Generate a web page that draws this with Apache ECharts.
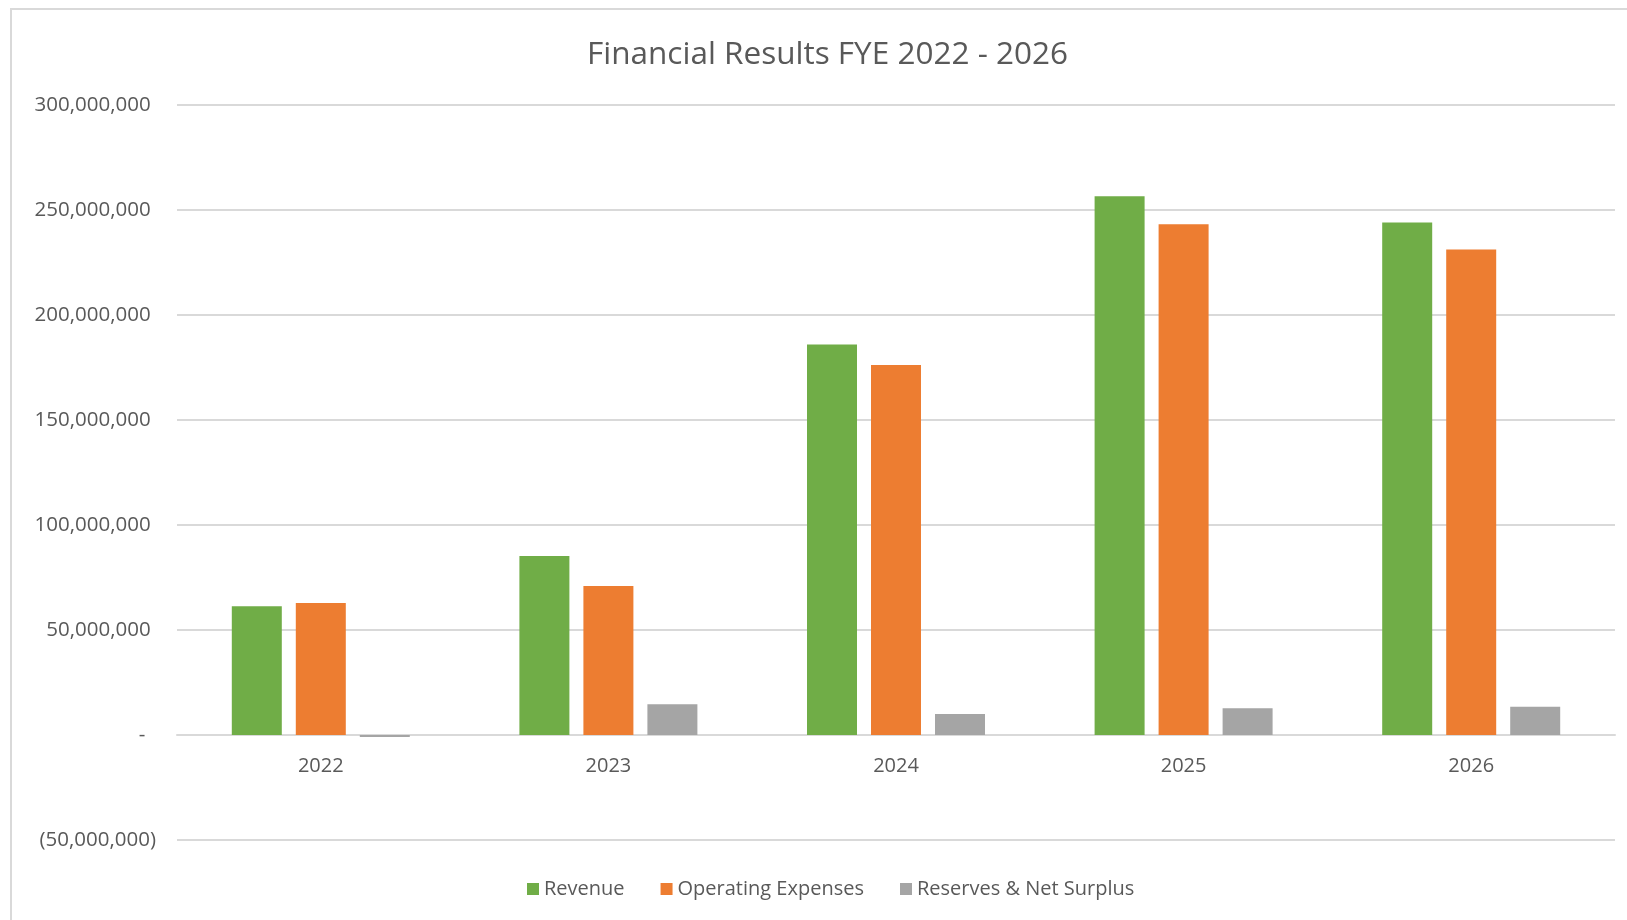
<!DOCTYPE html>
<html lang="en">
<head>
    <meta charset="UTF-8">
    <title>Financial Results FYE 2022 - 2026</title>
    <script src="https://cdn.jsdelivr.net/npm/echarts@6/dist/echarts.min.js"></script>
    <style>
        *{
            margin: 0;
            padding: 0;
        }
        html,body{
            width: 100%;
            height: 100%;
            background: #fff;
        }
        .main{
            width: 1627px;
            height: 920px;
        }
    </style>
</head>
<body>
<div class="main"></div>
<script>
    let years = ['2022', '2023', '2024', '2025', '2026'];
    let revenue = [61300000, 85200000, 186000000, 256600000, 244000000];
    let opex = [62800000, 71000000, 176200000, 243200000, 231200000];
    let reserves = [-1000000, 14600000, 10000000, 12700000, 13400000];

    let yMin = -50000000;
    let yMax = 300000000;
    let yStep = 50000000;

    let textColor = '#595959';
    let font = 'Open Sans';

    // accounting style: zero as dash, negatives in brackets
    function fmt(v) {
        if (v === 0) return '-  ';
        let s = Math.abs(v).toLocaleString('en-US');
        return v < 0 ? '(' + s + ')' : s + ' ';
    }

    let main = echarts.init(document.getElementsByClassName('main')[0]);
    let option = {
        animation: false,
        color: ['#70AD47', '#ED7D31', '#A5A5A5'],
        textStyle: {fontFamily: font},
        graphic: [{
            type: 'rect',
            silent: true,
            shape: {x: 11, y: 9, width: 1700, height: 1000},
            style: {fill: 'none', stroke: '#d9d9d9', lineWidth: 2}
        }],
        title: {
            text: 'Financial Results FYE 2022 - 2026',
            left: 582,
            top: 34,
            textStyle: {
                color: textColor,
                fontFamily: font,
                fontSize: 31.5,
                fontWeight: 'normal'
            }
        },
        legend: {
            left: 522,
            top: 874,
            itemWidth: 12,
            itemHeight: 12,
            itemGap: 36,
            icon: 'rect',
            textStyle: {color: textColor, fontFamily: font, fontSize: 20},
            data: ['Revenue', 'Operating Expenses', 'Reserves & Net Surplus']
        },
        grid: {
            left: 177,
            right: 12,
            top: 105,
            bottom: 80,
            containLabel: false
        },
        xAxis: {
            type: 'category',
            data: years,
            offset: -105,
            axisTick: {show: false},
            axisLine: {onZero: false, lineStyle: {color: '#d9d9d9', width: 2}},
            axisLabel: {color: textColor, fontSize: 20, margin: 21}
        },
        yAxis: {
            type: 'value',
            min: yMin,
            max: yMax,
            interval: yStep,
            axisLine: {show: false},
            axisTick: {show: false},
            splitLine: {lineStyle: {color: '#d9d9d9', width: 2}},
            axisLabel: {color: textColor, fontSize: 20.5, margin: 21, formatter: fmt}
        },
        series: [{
            name: 'Revenue',
            type: 'bar',
            data: revenue,
            barWidth: 50,
            barGap: '28%'
        }, {
            name: 'Operating Expenses',
            type: 'bar',
            data: opex,
            barWidth: 50,
            barGap: '28%'
        }, {
            name: 'Reserves & Net Surplus',
            type: 'bar',
            data: reserves,
            barWidth: 50,
            barGap: '28%'
        }]
    };
    main.setOption(option);
</script>
</body>
</html>
